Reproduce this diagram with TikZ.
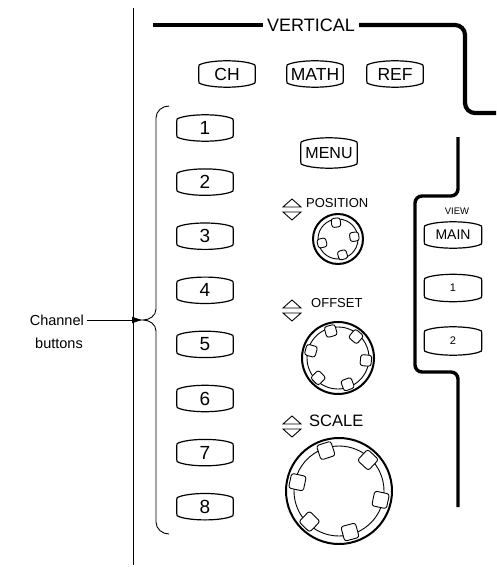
\documentclass[tikz,border=0pt]{standalone}
\usepackage{fontspec}
\setmainfont{Liberation Sans}
\usetikzlibrary{arrows.meta}

\newcommand{\fs}[1]{\fontsize{#1}{#1}\selectfont}
% outline of a panel key, drawn round a named node
\newcommand{\bezel}[1]{%
  \draw[keyline] ([yshift=-6pt]#1.north west)
    -- ([yshift=6pt]#1.south west)
    .. controls ([yshift=4pt]#1.south west) .. ([xshift=3pt,yshift=3pt]#1.south west)
    .. controls ([xshift=15pt,yshift=-1pt]#1.south west) and ([xshift=-15pt,yshift=-1pt]#1.south east) .. ([xshift=-3pt,yshift=3pt]#1.south east)
    .. controls ([yshift=4pt]#1.south east) .. ([yshift=6pt]#1.south east)
    -- ([yshift=-6pt]#1.north east)
    .. controls ([yshift=-4pt]#1.north east) .. ([xshift=-3pt,yshift=-3pt]#1.north east)
    .. controls ([xshift=-15pt,yshift=1pt]#1.north east) and ([xshift=15pt,yshift=1pt]#1.north west) .. ([xshift=3pt,yshift=-3pt]#1.north west)
    .. controls ([yshift=-4pt]#1.north west) .. cycle;}

\tikzset{
  key/.style={minimum width=56pt, minimum height=26pt, inner sep=0pt},
  keyline/.style={line width=1.2pt},
  panel/.style={line width=3.4pt, rounded corners=7pt},
  thin/.style={line width=0.9pt},
  lbl/.style={inner sep=0pt, anchor=west}
}

\begin{document}
\begin{tikzpicture}[x=1pt, y=-1pt]
\useasboundingbox (0,0) rectangle (496,567);

% section frame
\node[inner sep=4pt, font={\fs{18}}] (vlab) at (311,25) {VERTICAL};
\coordinate (vl) at (153,25);
\coordinate (vr) at (496,113);
\draw[panel, line width=4.2pt] (vl) -- (vlab.west);
\draw[panel, line width=4.2pt, rounded corners=10pt] (vlab.east) -- (465,25) -- (465,113) -- (vr);
\draw[panel] (458,137) -- (458,196) -- (415,196) -- (415,372) -- (458,372) -- (458,507);

\draw[thin] (133,8) -- (133,565);

% top keys
\node[key, font={\fs{17.5}}] (ch) at (227,74) {CH};
\node[key, font={\fs{17.5}}] (math) at (315,74) {MATH};
\node[key, font={\fs{17.5}}] (ref) at (395,74) {REF};
\node[key, minimum height=30pt, font={\fs{16}}] (menu) at (329,153) {MENU};

% channel keys
\foreach \i in {1,...,8}
  \node[key, font={\fs{19}}] (ch\i) at (205,{128+54.1*(\i-1)}) {\i};

% view keys
\node[font={\fs{9.5}}, inner sep=0pt] (view) at (457,211) {VIEW};
\node[key, minimum width=57pt, font={\fs{14}}] (vmain) at (453,235) {MAIN};
\node[key, minimum width=57pt, minimum height=27pt, font={\fs{11}}] (v1) at (453,288) {1};
\node[key, minimum width=57pt, minimum height=28pt, font={\fs{11}}] (v2) at (453,341) {2};

\foreach \k in {ch,math,ref,menu,ch1,ch2,ch3,ch4,ch5,ch6,ch7,ch8,vmain,v1,v2}
  \bezel{\k};

% knob labels
\node[lbl, font={\fs{13}}] (postxt) at (306,203) {POSITION};
\node[lbl, font={\fs{13}}] (offtxt) at (311,303) {OFFSET};
\node[lbl, font={\fs{16.5}}] (scltxt) at (309,421) {SCALE};
\foreach \ty in {207,308,424} {
  \draw[thin] (283,\ty) -- (301,\ty) -- (292,\ty-8) -- cycle;
  \draw[thin] (283,\ty+5) -- (301,\ty+5) -- (292,\ty+13) -- cycle;
}

% knobs
\foreach \cx/\cy/\ro/\ri/\rb/\sb/\angs in {338/239/25/20/16.5/9/{97,8,-74,-166},
    338/358/36/31/28/11/{105,50,-5,-70,-135,165},
    339/491/53/45/42.5/15/{108,47,-12,-75,-134,168}} {
  \draw[thin] (\cx,\cy) circle (\ri);
  \foreach \t in \angs
    \draw[thin, fill=white, rounded corners=2.5pt, shift={(\cx,\cy)}, rotate=\t]
      ({\rb-\sb/2},{-\sb/2}) rectangle ({\rb+\sb/2},{\sb/2});
  \draw[line width=2pt] (\cx,\cy) circle (\ro);
}

% channel bracket
\coordinate (tip) at (143,320);
\draw[thin] (169,106) to[out=180,in=90] (156,118) -- (156,309) to[out=-90,in=0] (tip)
  to[out=0,in=90] (156,331) -- (156,522) to[out=-90,in=180] (169,534);

\node[inner sep=3pt, anchor=east, font={\fs{14.5}}] (chan) at (87,320) {Channel};
\node[inner sep=3pt, anchor=east, font={\fs{14.5}}] (butt) at (86,343) {buttons};
\draw[thin, -{Latex[length=11pt,width=7pt]}] (chan.east) -- (tip);
\end{tikzpicture}
\end{document}
